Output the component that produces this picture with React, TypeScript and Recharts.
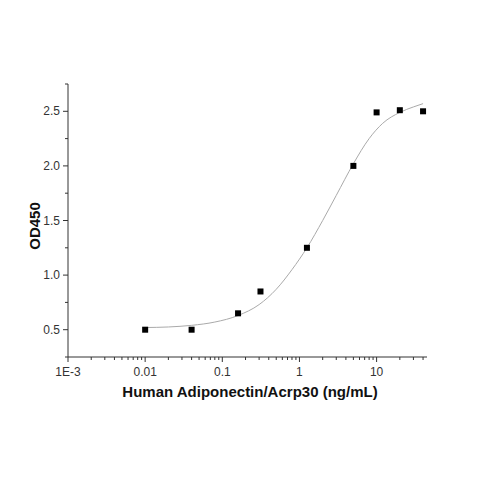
import { ComposedChart, Line, Scatter, XAxis, YAxis } from "recharts";

// measured points
const concentrations = [0.01, 0.04, 0.16, 0.3125, 1.25, 5, 10, 20, 40];
const od450 = [0.5, 0.5, 0.65, 0.85, 1.25, 2.0, 2.49, 2.51, 2.5];

// fitted curve
const fitX = [0.01, 0.02, 0.04, 0.08, 0.16, 0.3, 0.5, 0.8, 1.25, 2, 3, 5, 8, 12, 20, 30, 40];
const fitY = [0.52, 0.525, 0.54, 0.57, 0.63, 0.73, 0.87, 1.05, 1.25, 1.5, 1.73, 2.02, 2.25, 2.39, 2.49, 2.54, 2.57];

const xMajor = [0.001, 0.01, 0.1, 1, 10];
const xMajorLabels = ["1E-3", "0.01", "0.1", "1", "10"];
const yMajor = [0.5, 1.0, 1.5, 2.0, 2.5];
const yMajorLabels = ["0.5", "1.0", "1.5", "2.0", "2.5"];
const yMinor = [0.25, 0.75, 1.25, 1.75, 2.25, 2.75];

const X_MAX = 45;

const points = concentrations.map((x, i) => ({ x, y: od450[i] }));
const fit = fitX.map((x, i) => ({ x, y: fitY[i] }));

const xTicks: number[] = [];
xMajor.forEach((d) => {
  xTicks.push(d);
  for (let m = 2; m <= 9; m++) {
    const v = d * m;
    if (v <= X_MAX) xTicks.push(v);
  }
});
const yTicks = [...yMajor, ...yMinor].sort((a, b) => a - b);

const FONT = "'Liberation Sans', Arial, sans-serif";
const AXIS = "#333333";

function XTick(props: any) {
  const { x, y, payload } = props;
  const idx = xMajor.indexOf(payload.value);
  const major = idx >= 0;
  return (
    <g>
      <line x1={x} x2={x} y1={y} y2={y + (major ? 5 : 3)} stroke={AXIS} />
      {major && (
        <text x={x} y={y + 19} textAnchor="middle" fontSize={12} fill={AXIS} fontFamily={FONT}>
          {xMajorLabels[idx]}
        </text>
      )}
    </g>
  );
}

function YTick(props: any) {
  const { x, y, payload } = props;
  const idx = yMajor.indexOf(payload.value);
  const major = idx >= 0;
  return (
    <g>
      <line x1={x - (major ? 5 : 3)} x2={x} y1={y} y2={y} stroke={AXIS} />
      {major && (
        <text x={x - 8} y={y + 4} textAnchor="end" fontSize={12} fill={AXIS} fontFamily={FONT}>
          {yMajorLabels[idx]}
        </text>
      )}
    </g>
  );
}

const square = (p: any) => (
  <rect x={p.cx - 3} y={p.cy - 3} width={6} height={6} fill="#000" />
);

export default function App() {
  return (
    <div style={{ position: "absolute", left: 0, top: 0, width: 479, height: 479, background: "#fff" }}>
      <ComposedChart
        width={479}
        height={479}
        margin={{ top: 84, right: 52, bottom: 72, left: 0 }}
      >
        <XAxis
          dataKey="x"
          type="number"
          scale="log"
          domain={[0.001, X_MAX]}
          allowDataOverflow
          ticks={xTicks}
          interval={0}
          tick={<XTick />}
          tickSize={0}
          tickMargin={0}
          tickLine={false}
          height={50}
          axisLine={{ stroke: AXIS }}
          label={{
            content: () => (
              <text x={250} y={397} textAnchor="middle" fontSize={15} fontWeight="bold" fill="#111" fontFamily={FONT}>
                Human Adiponectin/Acrp30 (ng/mL)
              </text>
            ),
          }}
        />
        <YAxis
          dataKey="y"
          type="number"
          domain={[0.25, 2.75]}
          allowDataOverflow
          ticks={yTicks}
          interval={0}
          tick={<YTick />}
          tickSize={0}
          tickMargin={0}
          tickLine={false}
          width={68}
          axisLine={{ stroke: AXIS }}
          label={{
            content: () => (
              <text
                x={40}
                y={226}
                transform="rotate(-90 40 226)"
                textAnchor="middle"
                fontSize={15}
                fontWeight="bold"
                fill="#111"
                fontFamily={FONT}
              >
                OD450
              </text>
            ),
          }}
        />
        <Line
          data={fit}
          dataKey="y"
          type="monotone"
          stroke="#aaaaaa"
          strokeWidth={1}
          dot={false}
          isAnimationActive={false}
        />
        <Scatter data={points} dataKey="y" shape={square} isAnimationActive={false} />
      </ComposedChart>
    </div>
  );
}
